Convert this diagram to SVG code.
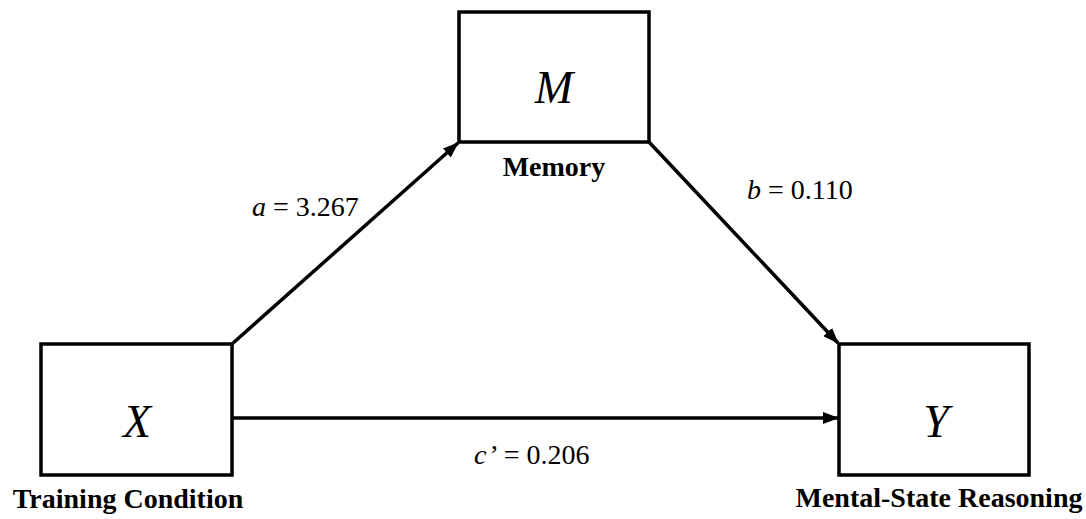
<svg xmlns="http://www.w3.org/2000/svg" width="1086" height="519" viewBox="0 0 1086 519">
<style>
.box{fill:#fff;stroke:#000;stroke-width:3.5}
.var{font-family:"Liberation Serif","Times New Roman",serif;font-style:italic;font-size:46px;text-anchor:middle;fill:#000}
.name{font-family:"Liberation Serif","Times New Roman",serif;font-weight:bold;font-size:28px;text-anchor:middle;fill:#000}
text.lbl{font-family:"Liberation Serif","Times New Roman",serif;font-size:28px;fill:#000}
tspan.i{font-style:italic}
.edge{stroke:#000;stroke-width:3.5;fill:none;marker-end:url(#ah)}
</style>
<defs>
<marker id="ah" viewBox="0 0 16 12" refX="15" refY="6" markerWidth="16" markerHeight="12" markerUnits="userSpaceOnUse" orient="auto">
<path d="M0,0 L16,6 L0,12 z" fill="#000"/>
</marker>
</defs>
<rect width="1086" height="519" fill="#fff"/>
<g id="connectors">
<line class="edge" x1="232" y1="344" x2="458" y2="143"/>
<line class="edge" x1="649" y1="142" x2="838" y2="343"/>
<line class="edge" x1="232" y1="418" x2="838" y2="418"/>
<text class="lbl" x="252" y="216"><tspan class="i">a</tspan> = 3.267</text>
<text class="lbl" x="747" y="199"><tspan class="i">b</tspan> = 0.110</text>
<text class="lbl" x="474" y="464"><tspan class="i">c</tspan><tspan dx="3">’</tspan> = 0.206</text>
</g>
<g id="node-M">
<rect class="box" x="459" y="12" width="190" height="130"/>
<text class="var" x="554" y="103">M</text>
<text class="name" x="554" y="176">Memory</text>
</g>
<g id="node-X">
<rect class="box" x="41" y="344" width="191" height="131"/>
<text class="var" x="137" y="437">X</text>
<text class="name" x="128" y="508">Training Condition</text>
</g>
<g id="node-Y">
<rect class="box" x="839" y="344" width="190" height="131"/>
<text class="var" x="936" y="437">Y</text>
<text class="name" x="939" y="507">Mental-State Reasoning</text>
</g>
</svg>
